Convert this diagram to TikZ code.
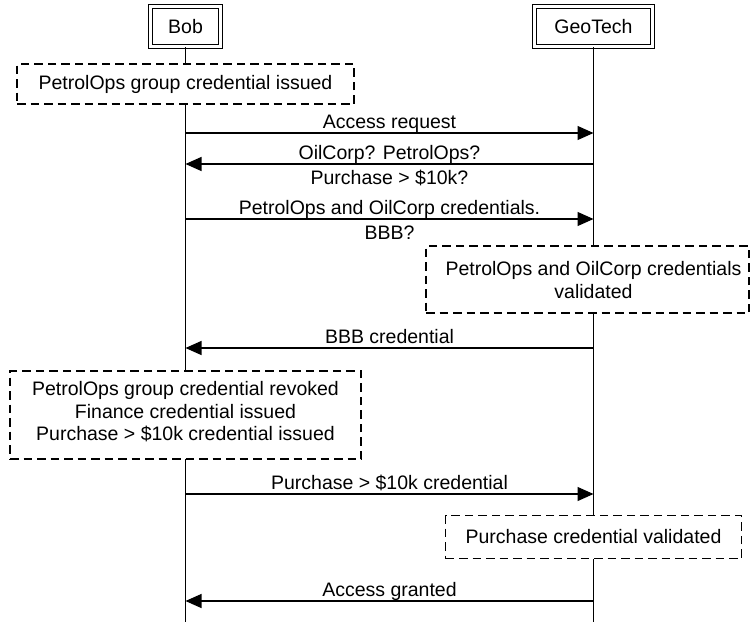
\documentclass[tikz,border=0pt]{standalone}
\usepackage{fontspec}
\setmainfont{Liberation Sans}
\usetikzlibrary{arrows.meta}
\newcommand{\diagfont}{\fontsize{19.5}{22.5}\selectfont}
\begin{document}
\begin{tikzpicture}[x=1pt,y=-1pt,
  actor/.style={draw, double, double distance=2.5pt, line width=1.3pt,
    minimum height=40pt, inner sep=0pt, font=\diagfont},
  lifeline/.style={line width=1.2pt},
  notebox/.style={draw, fill=white, dash pattern=on 8.5pt off 5pt,
    line width=1.05pt, inner sep=0pt},
  notetext/.style={align=center, inner sep=0pt, font=\diagfont},
  msg/.style={line width=1.2pt, -{Triangle[length=16pt,width=14pt]}},
  lblabove/.style={midway, anchor=base, yshift=5pt, inner sep=0pt, font=\diagfont},
  lblbelow/.style={midway, anchor=base, yshift=-20pt, inner sep=0pt, font=\diagfont},
]
\useasboundingbox (0,0) rectangle (751,622);

% participants
\node[actor, minimum width=70pt]  (bob) at (185.5,26.5) {Bob};
\node[actor, minimum width=118pt] (geo) at (593.5,26.5) {GeoTech};

% lifelines
\coordinate (bobend) at (185.5,622);
\coordinate (geoend) at (593.5,622);
\draw[lifeline] (bob.south) -- (bobend);
\draw[lifeline] (geo.south) -- (geoend);

% state notes
\node[notebox, minimum width=337pt, minimum height=40pt] (n1) at (185.5,84) {};
\node[notetext] (t1) at (n1.center) {PetrolOps group credential issued};

\node[notebox, minimum width=323pt, minimum height=67pt] (n2) at (587.5,279.5) {};
\node[notetext] (t2) at (593.5,280) {PetrolOps and OilCorp credentials\\validated};

\node[notebox, minimum width=351pt, minimum height=88pt] (n3) at (185.5,415) {};
\node[notetext] (t3) at (185.5,412) {PetrolOps group credential revoked\\Finance credential issued\\Purchase > \$10k credential issued};

\node[notebox, minimum width=296pt, minimum height=43pt] (n4) at (593.5,537) {};
\node[notetext] (t4) at (n4.center) {Purchase credential validated};

% message end points on the lifelines
\coordinate (b1) at (185.5,133); \coordinate (g1) at (593.5,133);
\coordinate (b2) at (185.5,164); \coordinate (g2) at (593.5,164);
\coordinate (b3) at (185.5,219); \coordinate (g3) at (593.5,219);
\coordinate (b4) at (185.5,348); \coordinate (g4) at (593.5,348);
\coordinate (b5) at (185.5,494); \coordinate (g5) at (593.5,494);
\coordinate (b6) at (185.5,601); \coordinate (g6) at (593.5,601);

% messages
\draw[msg] (b1) -- (g1) node[lblabove] (m1) {Access request};
\draw[msg] (g2) -- (b2) node[lblabove] (m2a) {OilCorp? PetrolOps?}
                        node[lblbelow] (m2b) {Purchase > \$10k?};
\draw[msg] (b3) -- (g3) node[lblabove] (m3a) {PetrolOps and OilCorp credentials.}
                        node[lblbelow] (m3b) {BBB?};
\draw[msg] (g4) -- (b4) node[lblabove] (m4) {BBB credential};
\draw[msg] (b5) -- (g5) node[lblabove] (m5) {Purchase > \$10k credential};
\draw[msg] (g6) -- (b6) node[lblabove] (m6) {Access granted};
\end{tikzpicture}
\end{document}
